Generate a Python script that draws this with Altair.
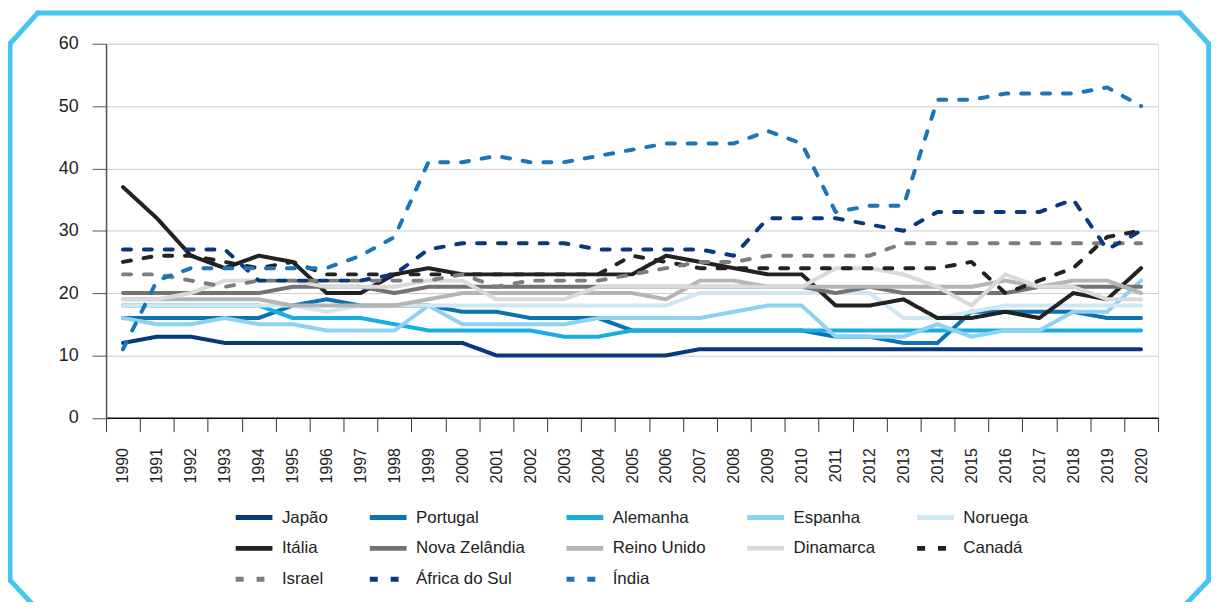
import altair as alt
import pandas as pd

years = list(range(1990, 2021))

countries = ["Japão", "Portugal", "Alemanha", "Espanha", "Noruega",
             "Itália", "Nova Zelândia", "Reino Unido", "Dinamarca", "Canadá",
             "Israel", "África do Sul", "Índia"]

japao     = [12, 13, 13, 12, 12, 12, 12, 12, 12, 12, 12, 10, 10, 10, 10, 10, 10, 11, 11, 11, 11, 11, 11, 11, 11, 11, 11, 11, 11, 11, 11]
portugal  = [16, 16, 16, 16, 16, 18, 19, 18, 18, 18, 17, 17, 16, 16, 16, 14, 14, 14, 14, 14, 14, 13, 13, 12, 12, 17, 17, 17, 17, 16, 16]
alemanha  = [18, 18, 18, 18, 18, 16, 16, 16, 15, 14, 14, 14, 14, 13, 13, 14, 14, 14, 14, 14, 14, 14, 14, 14, 14, 14, 14, 14, 14, 14, 14]
espanha   = [16, 15, 15, 16, 15, 15, 14, 14, 14, 18, 15, 15, 15, 15, 16, 16, 16, 16, 17, 18, 18, 13, 13, 13, 15, 13, 14, 14, 17, 17, 22]
noruega   = [18, 18, 18, 18, 18, 18, 17, 18, 18, 18, 18, 18, 18, 18, 18, 18, 18, 20, 20, 20, 20, 20, 20, 16, 16, 17, 18, 18, 18, 18, 18]
italia    = [37, 32, 26, 24, 26, 25, 20, 20, 23, 24, 23, 23, 23, 23, 23, 23, 26, 25, 24, 23, 23, 18, 18, 19, 16, 16, 17, 16, 20, 19, 24]
nova_zel  = [20, 20, 20, 20, 20, 21, 21, 21, 20, 21, 21, 21, 21, 21, 21, 21, 21, 21, 21, 21, 21, 20, 21, 20, 20, 20, 20, 21, 21, 21, 21]
reino_un  = [19, 19, 19, 19, 19, 18, 18, 18, 18, 19, 20, 20, 20, 20, 20, 20, 19, 22, 22, 21, 21, 21, 21, 21, 21, 21, 22, 21, 22, 22, 20]
dinamarca = [19, 19, 20, 22, 22, 22, 21, 21, 21, 22, 22, 19, 19, 19, 21, 21, 21, 21, 21, 21, 21, 24, 24, 23, 21, 18, 23, 21, 21, 19, 19]
canada    = [25, 26, 26, 25, 24, 25, 23, 23, 23, 23, 23, 23, 23, 23, 23, 26, 25, 24, 24, 24, 24, 24, 24, 24, 24, 25, 20, 22, 24, 29, 30]
israel    = [23, 23, 22, 21, 22, 22, 22, 22, 22, 22, 23, 21, 22, 22, 22, 23, 24, 25, 25, 26, 26, 26, 26, 28, 28, 28, 28, 28, 28, 28, 28]
africa_s  = [27, 27, 27, 27, 22, 22, 22, 22, 23, 27, 28, 28, 28, 28, 27, 27, 27, 27, 26, 32, 32, 32, 31, 30, 33, 33, 33, 33, 35, 27, 30]
india     = [11, 22, 24, 24, 24, 24, 24, 26, 29, 41, 41, 42, 41, 41, 42, 43, 44, 44, 44, 46, 44, 33, 34, 34, 51, 51, 52, 52, 52, 53, 50]

series = [japao, portugal, alemanha, espanha, noruega, italia, nova_zel,
          reino_un, dinamarca, canada, israel, africa_s, india]

colors = ["#0a387d", "#0b73b1", "#19aee0", "#8ed1f0", "#cfe6f3",
          "#222222", "#737373", "#b5b5b5", "#dadada", "#222222",
          "#7d7d7d", "#0a387d", "#1a75bb"]
dashes = [[1, 0]] * 9 + [[8, 13]] * 4

rows = []
for name, vals in zip(countries, series):
    for y, v in zip(years, vals):
        rows.append({"pais": name, "ano": str(y), "valor": v})
df = pd.DataFrame(rows)

FONT = "Liberation Sans"

legend = alt.Legend(
    title=None, orient="none", legendX=128, legendY=456, columns=5,
    direction="horizontal",
    symbolType="stroke", symbolSize=1369, symbolStrokeWidth=5,
    labelFontSize=17, labelFont=FONT, labelColor="#222222",
    columnPadding=31, rowPadding=-1, labelOffset=7, gridAlign="each",
    labelLimit=300, symbolLimit=0,
)

lines = alt.Chart(df).mark_line(strokeWidth=4, strokeCap="round", strokeJoin="round").encode(
    x=alt.X("ano:O", bandPosition=0.5,
            scale=alt.Scale(type="band", paddingInner=0, paddingOuter=0),
            axis=alt.Axis(title=None, labelAngle=270, tickBand="extent", tickSize=14,
                          domainColor="#111111", domainWidth=1.5, tickColor="#333333",
                          labelFontSize=16, labelFont=FONT, labelColor="#222222",
                          labelPadding=16, grid=False)),
    y=alt.Y("valor:Q",
            scale=alt.Scale(domain=[0, 60], nice=False, zero=True),
            axis=alt.Axis(title=None, values=[0, 10, 20, 30, 40, 50, 60], grid=True,
                          gridColor="#cccccc", domainColor="#555555", domainWidth=1.5,
                          tickColor="#555555", tickSize=14, labelFontSize=18,
                          labelFont=FONT, labelColor="#222222", labelPadding=14)),
    color=alt.Color("pais:N", sort=countries,
                    scale=alt.Scale(domain=countries, range=colors), legend=legend),
    strokeDash=alt.StrokeDash("pais:N", sort=countries,
                              scale=alt.Scale(domain=countries, range=dashes), legend=legend),
)

one = pd.DataFrame({"k": [0]})
FRAME = "#45c5f0"


def seg(x1, y1, x2, y2):
    return alt.Chart(one).mark_rule(color=FRAME, strokeWidth=5, strokeCap="round").encode(
        x=alt.value(x1), y=alt.value(y1), x2=alt.value(x2), y2=alt.value(y2))


frame = [
    seg(-68.7, -31, 1081.3, -31),
    seg(1081.3, -31, 1110, 0),
    seg(1110, 0, 1110, 540),
    seg(1110, 540, 1081.3, 570),
    seg(-96.7, 0, -96.7, 540),
    seg(-96.7, 0, -68.7, -31),
    seg(-96.7, 540, -68.7, 570),
]

chart = alt.layer(lines, *frame).properties(
    width=1059, height=376.5,
    autosize=alt.AutoSizeParams(type="none"),
    padding={"left": 98.7, "top": 34, "right": 53.3, "bottom": 183.5},
).configure_view(stroke="#d9d9d9", strokeWidth=1.5).configure(background="white")

chart.save("out.html", embed_options={"renderer": "svg", "actions": False})
